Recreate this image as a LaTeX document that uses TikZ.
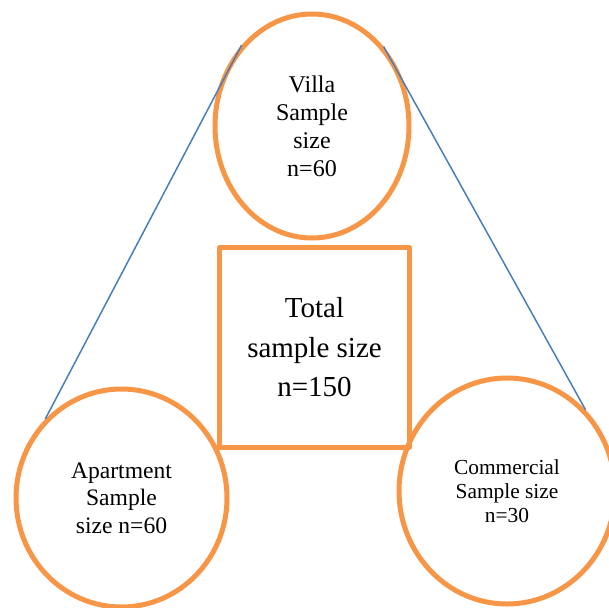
\documentclass[tikz,border=0pt]{standalone}
\usepackage{fontspec}
\setmainfont{Liberation Serif}
\usetikzlibrary{shapes.geometric}
\definecolor{ringorange}{HTML}{F79646}
\definecolor{linkblue}{HTML}{4A7EBB}
\tikzset{
  ring/.style={ellipse, draw=ringorange, line width=5pt, inner sep=0pt, align=center},
  totalbox/.style={rectangle, draw=ringorange, line width=5pt, line join=round, inner sep=0pt, align=center},
  link/.style={draw=linkblue, line width=1.5pt}
}
\begin{document}
\begin{tikzpicture}[x=1pt, y=-1pt]
  \useasboundingbox (0,0) rectangle (609,607);
  \clip (0,0) rectangle (609,607);

  % the three sample groups
  \node[ring, minimum width=194pt, minimum height=224pt,
        font=\fontsize{24}{28}\selectfont] (villa) at (312,126)
        {Villa\\Sample\\size\\n=60};
  \node[ring, minimum width=211pt, minimum height=218pt,
        font=\fontsize{23.6}{27.5}\selectfont] (apt) at (121.5,498)
        {Apartment\\Sample\\size n=60};
  \node[ring, minimum width=216pt, minimum height=226pt,
        font=\fontsize{21.4}{24}\selectfont] (com) at (507,491)
        {Commercial\\Sample size\\n=30};

  % total in the middle
  \node[totalbox, minimum width=190pt, minimum height=200pt,
        font=\fontsize{29}{39.5}\selectfont] (total) at (314.5,347.5)
        {Total\\sample size\\n=150};

  % links from the villa group down to the other two
  \draw[link] (villa.131) -- (apt.134);
  \draw[link] (villa.48) -- (com.46);
\end{tikzpicture}
\end{document}
